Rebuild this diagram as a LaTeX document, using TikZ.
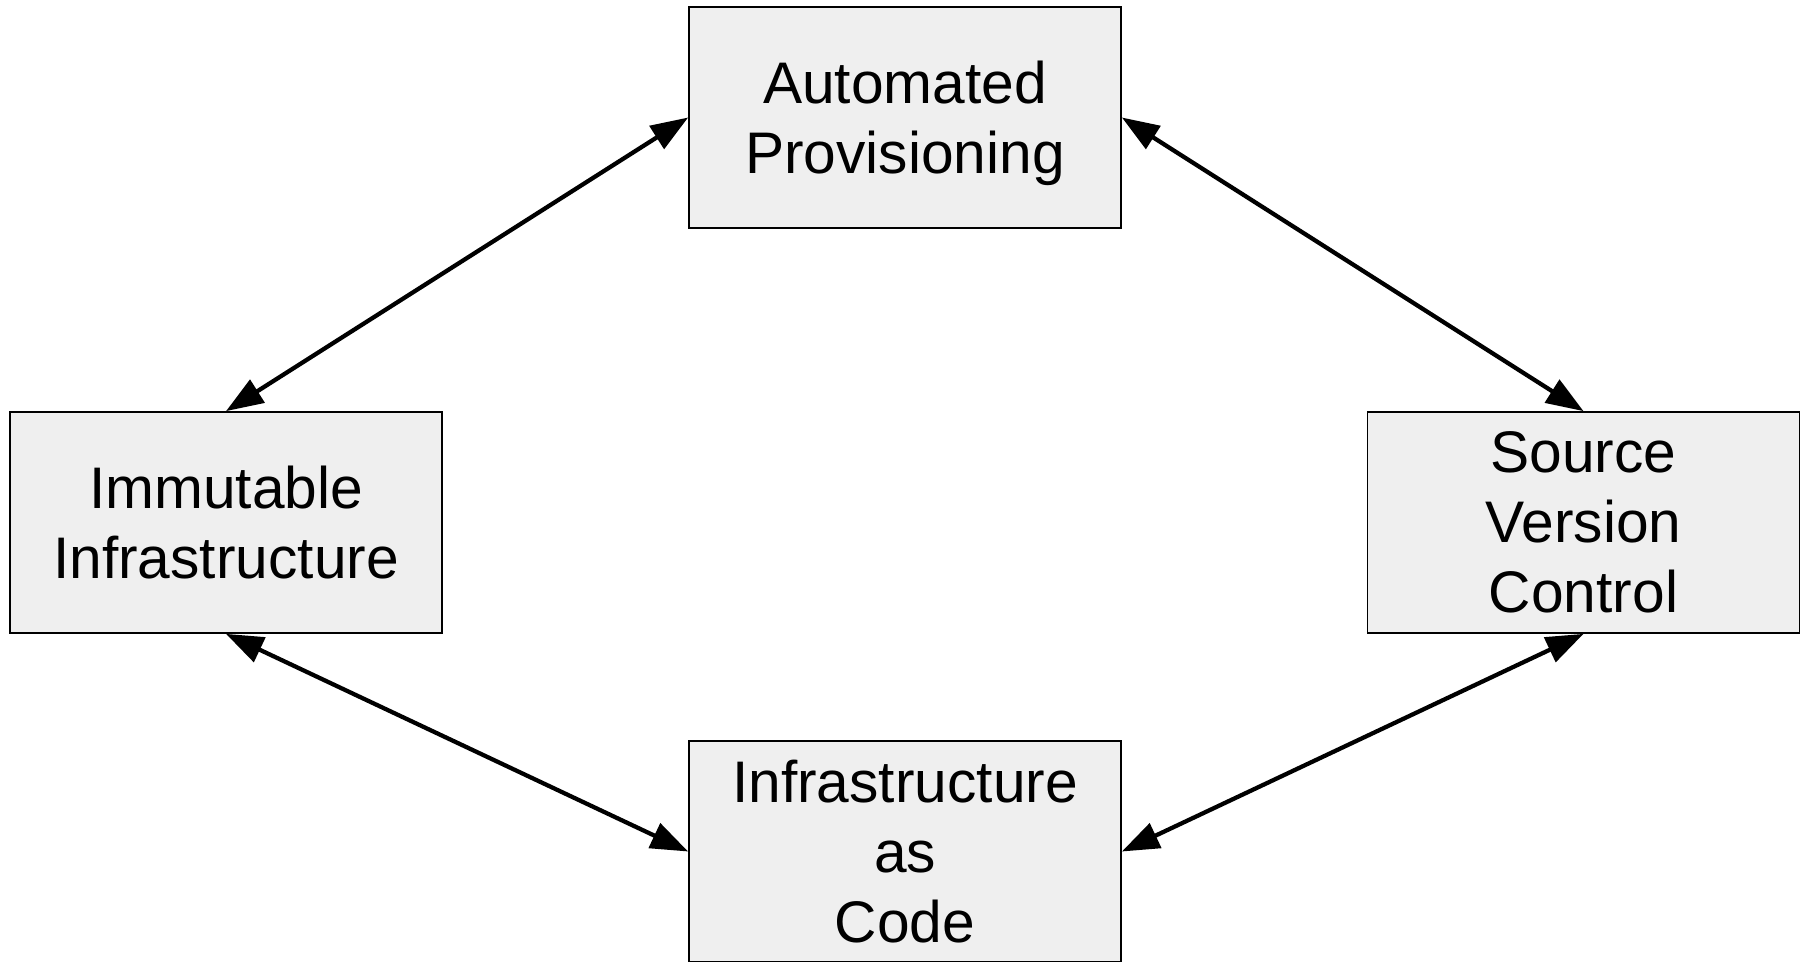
\documentclass[tikz,border=0pt]{standalone}
\usepackage{fontspec}
\setmainfont{Liberation Sans}
\usetikzlibrary{arrows.meta}
\definecolor{boxfill}{HTML}{EFEFEF}
\tikzset{
  box/.style={draw=black, line width=1.3pt, fill=boxfill, minimum width=324pt, minimum height=165.75pt,
    inner sep=0pt, align=center, font=\fontsize{44}{52.5}\selectfont},
  boxtext/.style={inner sep=0pt, align=center, font=\fontsize{44}{52.5}\selectfont},
  link/.style={line width=3.2pt, {Triangle[length=28pt,width=20pt]}-{Triangle[length=28pt,width=20pt]}}
}
\begin{document}
\begin{tikzpicture}[x=0.75pt,y=-0.75pt]
\useasboundingbox (0,0) rectangle (1806,961);
\node[box] (ap) at (905,117.5) {};
\node[boxtext] (aptext) at ([yshift=-4.5pt]ap.center) {Automated\\Provisioning};
\node[box] (ii) at (226,522.5) {Immutable\\Infrastructure};
\node[box] (svc) at (1583.5,522.5) {Source\\Version\\Control};
\node[box] (iac) at (905,851.5) {Infrastructure\\as\\Code};
\draw[link] (ap.west) -- (ii.north);
\draw[link] (ap.east) -- (svc.north);
\draw[link] (ii.south) -- (iac.west);
\draw[link] (svc.south) -- (iac.east);
\end{tikzpicture}
\end{document}
